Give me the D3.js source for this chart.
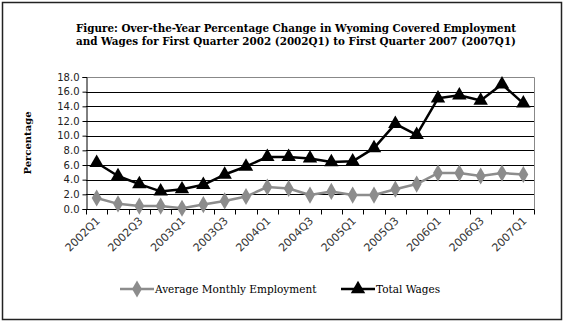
<!DOCTYPE html>
<html>
<head>
<meta charset="utf-8">
<script src="https://cdn.jsdelivr.net/npm/d3@7"></script>
<style>
  body { margin: 0; background: #fff; }
  svg { display: block; }
</style>
</head>
<body>
<script>
'use strict';

// quarters 2002Q1 .. 2007Q1
const quarters = ["2002Q1", "2002Q2", "2002Q3", "2002Q4", "2003Q1", "2003Q2", "2003Q3", "2003Q4",
  "2004Q1", "2004Q2", "2004Q3", "2004Q4", "2005Q1", "2005Q2", "2005Q3", "2005Q4",
  "2006Q1", "2006Q2", "2006Q3", "2006Q4", "2007Q1"];

// over-the-year % change
const employment = [1.5, 0.7, 0.4, 0.4, 0.1, 0.6, 1.1, 1.7, 3.0, 2.8, 1.9,
  2.4, 1.9, 1.9, 2.7, 3.4, 4.9, 4.9, 4.5, 4.9, 4.7];
const wages = [6.3, 4.5, 3.4, 2.4, 2.7, 3.3, 4.7, 5.8, 7.1, 7.1, 6.9,
  6.4, 6.5, 8.3, 11.6, 10.1, 15.1, 15.5, 14.8, 17.0, 14.4];

const yTicks = [0, 2, 4, 6, 8, 10, 12, 14, 16, 18];
const xLabelEvery = 2;

const titleLines = [
  "Figure: Over-the-Year Percentage Change in Wyoming Covered Employment",
  "and Wages for First Quarter 2002 (2002Q1) to First Quarter 2007 (2007Q1)"
];

const serif = "'DejaVu Serif', serif";
const sans = "'DejaVu Sans', sans-serif";
const grey = "#8c8c8c";

const svg = d3.select('body').append('svg')
  .attr('width', 564)
  .attr('height', 323);

// outer frame
svg.append('rect')
  .attr('x', 2.5).attr('y', 2.5)
  .attr('width', 559).attr('height', 317)
  .attr('fill', 'white')
  .attr('stroke', '#222')
  .attr('stroke-width', 1.5);

// title
svg.selectAll('.title')
  .data(titleLines)
  .enter()
  .append('text')
    .attr('class', 'title')
    .attr('x', 296)
    .attr('y', (d, i) => 32 + i * 13)
    .attr('text-anchor', 'middle')
    .attr('textLength', 440)
    .attr('lengthAdjust', 'spacingAndGlyphs')
    .style('font-family', serif)
    .style('font-weight', 'bold')
    .style('font-size', '10.5px')
    .text(d => d);

const plot = { left: 86, right: 534, top: 77, bottom: 209 };

const xBand = d3.scaleBand()
  .domain(quarters)
  .range([plot.left, plot.right]);

const xCenter = d => xBand(d) + xBand.bandwidth() / 2;

const yScale = d3.scaleLinear()
  .domain([0, 18])
  .range([plot.bottom, plot.top]);

// gridlines
svg.append('g')
  .selectAll('line')
  .data(yTicks.filter(t => t > 0 && t < 18))
  .enter()
  .append('line')
    .attr('x1', plot.left).attr('x2', plot.right)
    .attr('y1', d => Math.round(yScale(d)) + 0.5)
    .attr('y2', d => Math.round(yScale(d)) + 0.5)
    .attr('stroke', '#000')
    .attr('stroke-width', 1);

// grey plot border, top and right
svg.append('path')
  .attr('d', `M${plot.left},${plot.top + 0.5}H${plot.right + 0.5}V${plot.bottom}`)
  .attr('fill', 'none')
  .attr('stroke', '#888')
  .attr('stroke-width', 1);

// y axis
const yAxis = d3.axisLeft(yScale)
  .tickValues(yTicks)
  .tickSize(4)
  .tickPadding(3)
  .tickFormat(d3.format('.1f'));

const gy = svg.append('g')
  .attr('transform', `translate(${plot.left + 0.5}, 0)`)
  .call(yAxis);
gy.select('.domain').attr('stroke', '#000');
gy.selectAll('.tick line').attr('stroke', '#000');
gy.selectAll('text')
  .style('font-family', sans)
  .style('font-size', '10px')
  .attr('fill', '#222');

// x axis, ticks between categories
const gx = svg.append('g')
  .attr('transform', `translate(0, ${plot.bottom + 0.5})`);
gx.append('line')
  .attr('x1', plot.left).attr('x2', plot.right + 0.5)
  .attr('stroke', '#000');
gx.selectAll('.tk')
  .data(quarters.concat(['end']))
  .enter()
  .append('line')
    .attr('class', 'tk')
    .attr('x1', (d, i) => Math.round(plot.left + i * xBand.bandwidth()) + 0.5)
    .attr('x2', (d, i) => Math.round(plot.left + i * xBand.bandwidth()) + 0.5)
    .attr('y1', 0).attr('y2', 5)
    .attr('stroke', '#000');

gx.selectAll('.lbl')
  .data(quarters.filter((d, i) => i % xLabelEvery === 0))
  .enter()
  .append('text')
    .attr('class', 'lbl')
    .attr('transform', d => `translate(${xCenter(d) + 4}, 12)rotate(-45)`)
    .attr('text-anchor', 'end')
    .style('font-family', sans)
    .style('font-size', '11px')
    .attr('fill', '#333')
    .text(d => d);

// y axis title
svg.append('text')
  .attr('transform', 'translate(31, 143)rotate(-90)')
  .attr('text-anchor', 'middle')
  .style('font-family', serif)
  .style('font-weight', 'bold')
  .style('font-size', '10px')
  .text('Percentage');

// series
const line = d3.line()
  .x((d, i) => xCenter(quarters[i]))
  .y(d => yScale(d));

const diamond = d3.symbol().type(d3.symbolDiamond).size(85);
const triangle = d3.symbol().type(d3.symbolTriangle).size(90);

function drawSeries(values, color, shape) {
  svg.append('path')
    .datum(values)
    .attr('fill', 'none')
    .attr('stroke', color)
    .attr('stroke-width', 2.5)
    .attr('stroke-linejoin', 'round')
    .attr('d', line);

  svg.append('g')
    .selectAll('path')
    .data(values)
    .enter()
    .append('path')
      .attr('d', shape)
      .attr('transform', (d, i) => `translate(${xCenter(quarters[i])}, ${yScale(d)})`)
      .attr('fill', color);
}

drawSeries(employment, grey, diamond);
drawSeries(wages, '#000', triangle);

// legend
const legend = [
  { name: 'Average Monthly Employment', color: grey, shape: diamond, x: 120 },
  { name: 'Total Wages', color: '#000', shape: triangle, x: 341 }
];

const lg = svg.selectAll('.legend')
  .data(legend)
  .enter()
  .append('g')
    .attr('class', 'legend')
    .attr('transform', d => `translate(${d.x}, 289)`);

lg.append('line')
  .attr('x1', 0).attr('x2', 34)
  .attr('stroke', d => d.color)
  .attr('stroke-width', 2.5);
lg.append('path')
  .attr('d', d => d.shape())
  .attr('transform', 'translate(17, 0)')
  .attr('fill', d => d.color);
lg.append('text')
  .attr('x', 35)
  .attr('y', 4)
  .style('font-family', serif)
  .style('font-size', '10.5px')
  .text(d => d.name);
</script>
</body>
</html>
